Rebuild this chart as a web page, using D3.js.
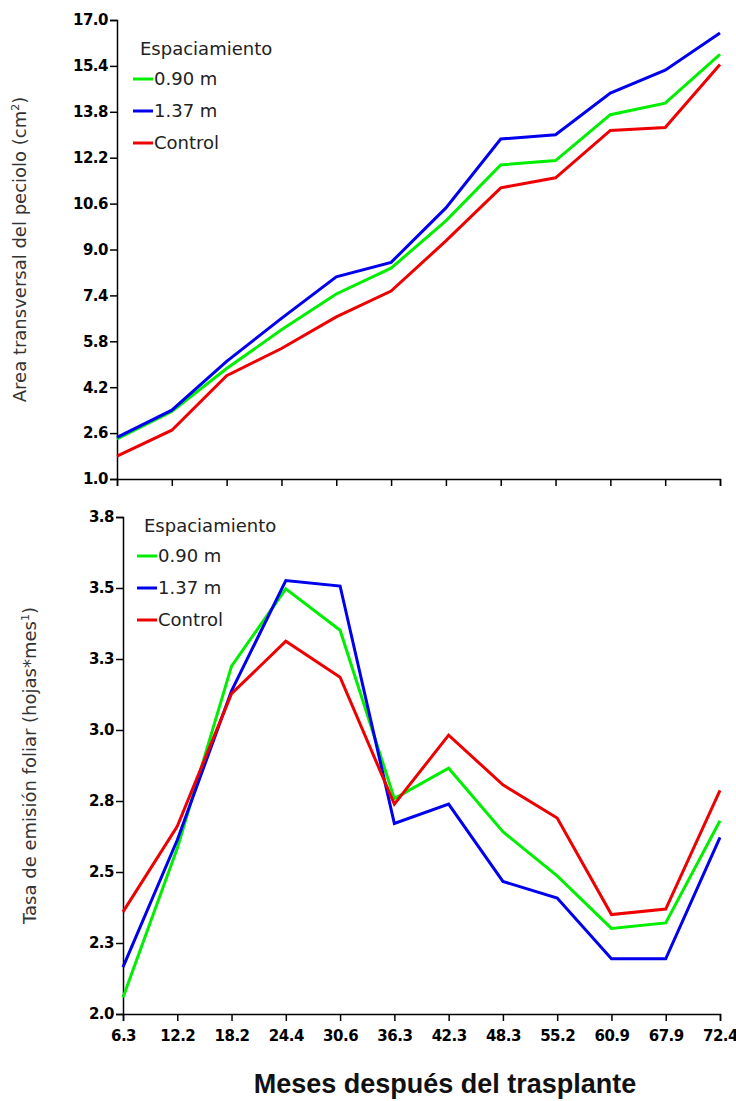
<!DOCTYPE html>
<html><head><meta charset="utf-8">
<script src="https://cdn.jsdelivr.net/npm/d3@7"></script>
<style>body{margin:0;background:#fff}text{font-family:"DejaVu Sans",Verdana,sans-serif}</style>
</head><body><svg id="c" width="736" height="1101"></svg>
<script>
var months = ['6.3','12.2','18.2','24.4','30.6','36.3','42.3','48.3','55.2','60.9','67.9','72.4'];
var series = ['0.90 m','1.37 m','Control'];
var colors = ['#00ee00','#0000ee','#ee0000'];
// area transversal del peciolo
var areaA = [2.4,3.35,4.85,6.2,7.45,8.35,10.0,11.95,12.1,13.7,14.1,15.8];
var areaB = [2.45,3.4,5.1,6.6,8.05,8.55,10.45,12.85,13.0,14.45,15.25,16.55];
var areaC = [1.8,2.7,4.6,5.55,6.65,7.55,9.3,11.15,11.5,13.15,13.25,15.45];
// tasa de emision foliar
var tasaA = [2.06,2.6,3.26,3.54,3.39,2.78,2.89,2.66,2.50,2.31,2.33,2.70];
var tasaB = [2.17,2.63,3.17,3.57,3.55,2.69,2.76,2.48,2.42,2.20,2.20,2.64];
var tasaC = [2.37,2.68,3.16,3.35,3.22,2.76,3.01,2.83,2.71,2.36,2.38,2.81];
var areaTicks = d3.range(11).map(function(i){ return 1 + i*1.6; });
var tasaTicks = d3.range(8).map(function(i){ return 2 + i*1.8/7; });

var svg = d3.select('#c');

function panel(o) {
    var g = svg.append('g');
    var x = d3.scalePoint().domain(months).range([o.x0, 720]);
    var y = d3.scaleLinear().domain(o.dom).range([o.y1, o.y0]);
    var ya = g.append('g').attr('transform','translate('+o.x0+',0)')
        .call(d3.axisLeft(y).tickValues(o.ticks).tickSize(7).tickPadding(2).tickFormat(d3.format('.1f')));
    var xa = g.append('g').attr('transform','translate(0,'+o.y1+')')
        .call(d3.axisBottom(x).tickSize(7).tickFormat(o.showX ? null : ''));
    [ya, xa].forEach(function(a){
        a.attr('font-size',null).attr('font-family',null);
        a.select('.domain').attr('stroke','#000').attr('stroke-width',1.5);
        a.selectAll('line').attr('stroke','#000').attr('stroke-width',1.5);
        a.selectAll('text').style('font-size','15px').style('font-weight','bold')
            .style('letter-spacing','-0.5px').attr('fill','#000');
    });
    xa.selectAll('text').attr('dy','1.1em');
    var line = d3.line().x(function(d,i){ return x(months[i]); }).y(function(d){ return y(d); });
    o.data.forEach(function(s,i){
        g.append('path').attr('d', line(s)).attr('fill','none')
            .attr('stroke', colors[i]).attr('stroke-width',3);
    });
    g.append('text').attr('transform','translate('+o.tx+','+((o.y0+o.y1)/2)+') rotate(-90)')
        .attr('text-anchor','middle').style('font-size','18px').attr('fill','#333').html(o.title);
    // legend
    g.append('text').attr('x',o.lx+7).attr('y',o.ly).style('font-size','18px').attr('fill','#222').text('Espaciamiento');
    series.forEach(function(s,i){
        var yy = o.ly + 30 + i*32;
        g.append('line').attr('x1',o.lx).attr('x2',o.lx+20).attr('y1',yy-6).attr('y2',yy-6)
            .attr('stroke',colors[i]).attr('stroke-width',3);
        g.append('text').attr('x',o.lx+21).attr('y',yy).style('font-size','18px').attr('fill','#222').text(s);
    });
}

panel({x0:117, y0:20, y1:479, dom:[1,17], ticks:areaTicks, data:[areaA,areaB,areaC], showX:false,
    tx:26, title:'Area transversal del peciolo (cm<tspan dy="-7" font-size="11">2</tspan><tspan dy="7">)</tspan>', lx:133, ly:55});
panel({x0:123, y0:517, y1:1014, dom:[2,3.8], ticks:tasaTicks, data:[tasaA,tasaB,tasaC], showX:true,
    tx:36, title:'Tasa de emisión foliar (hojas*mes<tspan dy="-7" font-size="11">1</tspan><tspan dy="7">)</tspan>', lx:137, ly:532});

svg.append('text').attr('x',445).attr('y',1093).attr('text-anchor','middle')
    .style('font-family','Arial,"Liberation Sans",sans-serif')
    .style('font-size','27px').style('font-weight','bold').attr('fill','#111').text('Meses después del trasplante');
</script></body></html>
